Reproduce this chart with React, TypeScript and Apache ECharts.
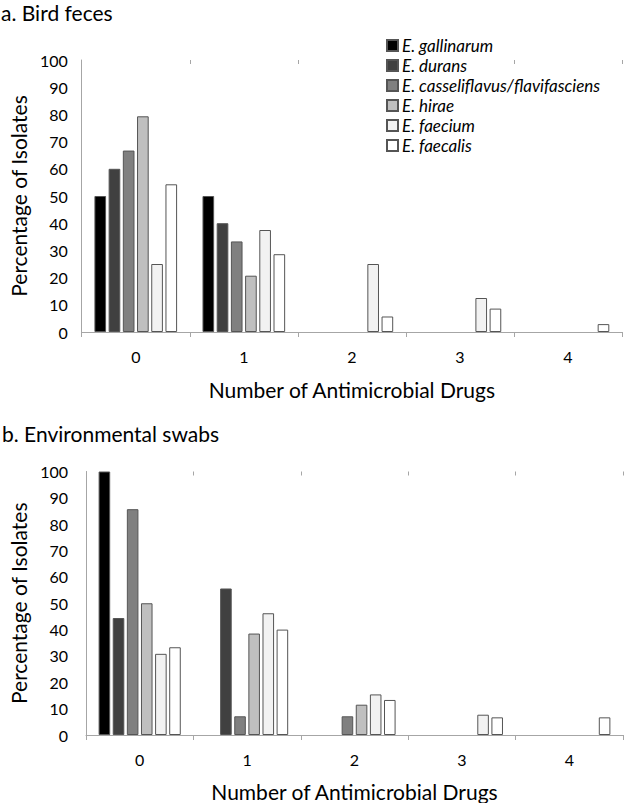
import React, { useEffect, useRef } from "react";
import * as echarts from "echarts";

const categories = ["0", "1", "2", "3", "4"];
const speciesNames = [
  "E. gallinarum",
  "E. durans",
  "E. casseliflavus/flavifasciens",
  "E. hirae",
  "E. faecium",
  "E. faecalis",
];
const speciesColors = ["#000000", "#404040", "#808080", "#bfbfbf", "#f2f2f2", "#ffffff"];

// a. Bird feces
const birdGallinarum = [50, 50, 0, 0, 0];
const birdDurans = [60, 40, 0, 0, 0];
const birdCasseliflavus = [66.7, 33.3, 0, 0, 0];
const birdHirae = [79.3, 20.7, 0, 0, 0];
const birdFaecium = [25, 37.5, 25, 12.5, 0];
const birdFaecalis = [54.3, 28.6, 5.7, 8.6, 2.9];

// b. Environmental swabs
const envGallinarum = [100, 0, 0, 0, 0];
const envDurans = [44.4, 55.6, 0, 0, 0];
const envCasseliflavus = [85.7, 7.1, 7.1, 0, 0];
const envHirae = [50, 38.5, 11.5, 0, 0];
const envFaecium = [30.8, 46.2, 15.4, 7.7, 0];
const envFaecalis = [33.3, 40, 13.3, 6.7, 6.7];

const birdData = [birdGallinarum, birdDurans, birdCasseliflavus, birdHirae, birdFaecium, birdFaecalis];
const envData = [envGallinarum, envDurans, envCasseliflavus, envHirae, envFaecium, envFaecalis];

const yTicks = { min: 0, max: 100, interval: 10 };

const FONT = "Lato";
const AXIS_COLOR = "#a6a6a6";

export default function App() {
  const ref = useRef<HTMLDivElement>(null);
  useEffect(() => {
    if (!ref.current) return;
    const chart = echarts.init(ref.current, null, { renderer: "svg" });

    const grids = [
      { left: 79, top: 60, width: 543, height: 272 },
      { left: 83, top: 471.5, width: 540, height: 269 },
    ];

    const mkX = (gi: number, nameGap: number) => ({
      type: "category",
      gridIndex: gi,
      data: categories,
      name: "Number of Antimicrobial Drugs",
      nameLocation: "middle",
      nameGap,
      nameTextStyle: { fontFamily: FONT, fontSize: 21, color: "#000" },
      axisLine: { show: true, lineStyle: { color: AXIS_COLOR, width: 1 } },
      axisTick: { show: true, length: 5, lineStyle: { color: AXIS_COLOR } },
      axisLabel: { fontFamily: FONT, fontSize: 16, color: "#000", margin: 16 },
    });
    const mkXInner = (gi: number) => ({
      type: "category",
      gridIndex: gi,
      data: categories,
      axisLine: { show: false },
      axisTick: { show: true, inside: true, length: 4, lineStyle: { color: AXIS_COLOR } },
      axisLabel: { show: false },
    });
    const mkY = (gi: number, nameGap: number, labelMargin: number) => ({
      type: "value",
      gridIndex: gi,
      ...yTicks,
      name: "Percentage of Isolates",
      nameLocation: "middle",
      nameGap,
      nameRotate: 90,
      nameTextStyle: { fontFamily: FONT, fontSize: 21, color: "#000" },
      axisLine: { show: true, lineStyle: { color: AXIS_COLOR, width: 1 } },
      axisTick: { show: false },
      splitLine: { show: false },
      axisLabel: { fontFamily: FONT, fontSize: 16, color: "#000", margin: labelMargin },
    });

    const series: any[] = [];
    [birdData, envData].forEach((ds, gi) => {
      ds.forEach((vals, si) => {
        series.push({
          type: "bar",
          name: speciesNames[si],
          xAxisIndex: gi,
          yAxisIndex: gi,
          data: vals.map((v) => (v === 0 ? null : v)),
          barGap: "22%",
          barCategoryGap: "23.5%",
          itemStyle: { color: speciesColors[si], borderColor: "#555555", borderWidth: 1 },
        });
      });
    });

    chart.setOption({
      animation: false,
      backgroundColor: "#ffffff",
      title: [
        { text: "a. Bird feces", left: 1, top: 2, padding: 0, textStyle: { fontFamily: FONT, fontSize: 21, fontWeight: "normal", color: "#000" } },
        { text: "b. Environmental swabs", left: 2, top: 423, padding: 0, textStyle: { fontFamily: FONT, fontSize: 21, fontWeight: "normal", color: "#000" } },
      ],
      legend: {
        orient: "vertical",
        left: 386,
        top: 37,
        padding: 0,
        itemWidth: 11,
        itemHeight: 11,
        itemGap: 3,
        icon: "rect",
        data: speciesNames,
        textStyle: { fontFamily: FONT, fontSize: 17, fontStyle: "italic", color: "#000", padding: [0, 0, 0, -1] },
      },
      grid: grids,
      xAxis: [mkX(0, 47), mkX(1, 46), mkXInner(0), mkXInner(1)],
      yAxis: [mkY(0, 49, 14), mkY(1, 57, 18)],
      series,
    });
    return () => chart.dispose();
  }, []);
  return <div ref={ref} style={{ position: "fixed", left: 0, top: 0, width: 625, height: 803 }} />;
}
